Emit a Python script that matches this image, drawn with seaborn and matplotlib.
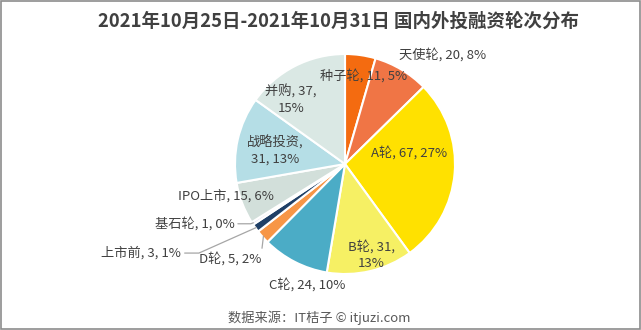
import numpy as np
import matplotlib
matplotlib.use("Agg")
import matplotlib.pyplot as plt
import seaborn as sns
from matplotlib.patches import Rectangle

sns.set_theme(style="white")
plt.rcParams['font.family'] = ['Noto Sans CJK SC', 'DejaVu Sans']

# ---- data ----
categories = ["种子轮", "天使轮", "A轮", "B轮", "C轮", "D轮", "上市前", "基石轮", "IPO上市", "战略投资", "并购"]
counts = [11, 20, 67, 31, 24, 5, 3, 1, 15, 31, 37]
percents = ["5%", "8%", "27%", "13%", "10%", "2%", "1%", "0%", "6%", "13%", "15%"]

title = "2021年10月25日-2021年10月31日 国内外投融资轮次分布"
source = "数据来源：IT桔子 © itjuzi.com"

# ---- style ----
colors = ["#F46B10", "#F07545", "#FFE100", "#F6F064", "#4BACC6", "#F79646",
          "#1F3F66", "#E4DDF0", "#D2DFDA", "#B5DEE6", "#DAE8E4"]
# label placement: (radius factor, angle offset from wedge middle in deg)
label_r = [0.82, 1.33, 0.59, 0.86, 1.15, 1.35, 2.02, 1.47, 1.12, 0.65, 0.76]
label_dang = [4, 11, -15, -3, -10, 2, 12, 11, 6, -2, -13]
# label text layout: 0 single line, 1 break after count, 2 break after name
breaks = [0, 0, 0, 1, 0, 0, 0, 0, 0, 2, 1]
# leader lines: None or (relpos, connectionstyle)
leaders = [None, None, None, None, None,
           ((1.0, 1.0), "arc3,rad=0"),
           ((1.0, 0.5), "angle,angleA=0,angleB=24,rad=0"),
           ((1.0, 0.5), "angle,angleA=0,angleB=20,rad=0"),
           None, None, None]

fig = plt.figure(figsize=(6.41, 3.30), dpi=100)
W, H = 641, 330
cx, cy, R = 345, 164, 110
ax = fig.add_axes([(cx - R) / W, (H - cy - R) / H, 2 * R / W, 2 * R / H])

wedges, _ = ax.pie(counts, colors=colors, startangle=90, counterclock=False,
                   radius=1.0, wedgeprops=dict(edgecolor="white", linewidth=1.5))
ax.set_xlim(-1, 1)
ax.set_ylim(-1, 1)
ax.set_aspect("equal")
ax.axis("off")

txt_color = "#404040"
for i, w in enumerate(wedges):
    mid = 0.5 * (w.theta1 + w.theta2)
    ang = np.deg2rad(mid - label_dang[i])
    r = label_r[i]
    tx, ty = r * np.cos(ang), r * np.sin(ang)
    if breaks[i] == 1:
        s = f"{categories[i]}, {counts[i]},\n{percents[i]}"
    elif breaks[i] == 2:
        s = f"{categories[i]},\n{counts[i]}, {percents[i]}"
    else:
        s = f"{categories[i]}, {counts[i]}, {percents[i]}"
    if leaders[i] is not None:
        relpos, cstyle = leaders[i]
        pa = np.deg2rad(mid)
        px, py = 0.99 * np.cos(pa), 0.99 * np.sin(pa)
        ax.annotate(s, xy=(px, py), xytext=(tx, ty), ha="center", va="center",
                    fontsize=9.5, color=txt_color, annotation_clip=False,
                    arrowprops=dict(arrowstyle="-", color="#A6A6A6", lw=0.9,
                                    shrinkA=0, shrinkB=0, relpos=relpos,
                                    connectionstyle=cstyle))
    else:
        ax.text(tx, ty, s, ha="center", va="center", fontsize=9.5,
                color=txt_color, linespacing=1.35, clip_on=False)

fig.text(339 / W, 1 - 21 / H, title, ha="center", va="center", fontsize=13.3,
         fontweight="bold", color="#404040")
fig.text(319 / W, 1 - 318 / H, source, ha="center", va="center", fontsize=9.5,
         color="#595959")

fig.add_artist(Rectangle((0.001, 0.002), 0.997, 0.995, transform=fig.transFigure,
                         fill=False, edgecolor="#8C8C8C", linewidth=1.2))

fig.savefig("out.png", dpi=100, facecolor="white")
